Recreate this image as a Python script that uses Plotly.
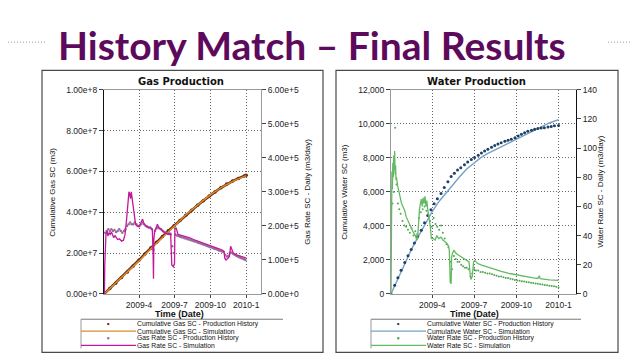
import pandas as pd
import plotly.graph_objects as go

W, H = 638, 359
START = pd.Timestamp("2009-01-01")

# ---------------- data (days since 2009-01-01) ----------------
gas_cum_hist_days = [0, 15, 30, 45, 60, 75, 90, 105, 120, 135, 150, 165, 180, 195, 210,
                     225, 240, 255, 270, 285, 300, 315, 330, 345, 360, 365]
gas_cum_hist = [0, 0.27e7, 0.53e7, 0.80e7, 1.07e7, 1.37e7, 1.66e7, 1.96e7, 2.25e7, 2.53e7,
                2.81e7, 3.09e7, 3.34e7, 3.60e7, 3.86e7, 4.10e7, 4.34e7, 4.57e7, 4.80e7,
                5.00e7, 5.20e7, 5.38e7, 5.53e7, 5.66e7, 5.78e7, 5.82e7]
gas_cum_sim_days = [0, 31, 59, 90, 120, 151, 181, 212, 243, 273, 304, 334, 365]
gas_cum_sim = [0, 0.55e7, 1.05e7, 1.62e7, 2.22e7, 2.80e7, 3.35e7, 3.90e7, 4.40e7,
               4.85e7, 5.25e7, 5.55e7, 5.80e7]

gas_rate_sim_days = [0, 1, 2, 3, 4, 5, 8, 10, 13, 16, 19, 22, 25, 28, 31, 35, 40, 45, 50,
                     54, 58, 61, 64, 66, 68, 70, 72, 75, 78, 81, 85, 90, 95, 99, 103, 108,
                     113, 118, 124, 126, 127, 128, 130, 134, 137, 141, 146, 150, 155, 160,
                     166, 171, 173, 174, 178, 181, 182, 185, 190, 200, 210, 220, 230, 243,
                     255, 265, 277, 290, 302, 308, 310, 313, 318, 322, 325, 328, 332, 340,
                     350, 358, 365]
gas_rate_sim = [0, 0, 0.85e5, 1.6e5, 1.2e5, 1.75e5, 1.85e5, 1.7e5, 1.8e5, 1.75e5, 1.82e5,
                1.7e5, 1.65e5, 1.72e5, 1.68e5, 1.6e5, 1.62e5, 1.55e5, 1.58e5, 1.75e5,
                2.2e5, 2.7e5, 3.0e5, 2.95e5, 2.8e5, 3.0e5, 2.85e5, 2.6e5, 2.3e5, 2.05e5,
                2.0e5, 1.98e5, 2.1e5, 2.2e5, 2.05e5, 2.0e5, 1.95e5, 1.95e5, 1.9e5, 1.2e5,
                0.45e5, 1.6e5, 1.85e5, 1.95e5, 2.05e5, 1.95e5, 1.9e5, 1.85e5, 1.8e5,
                1.78e5, 1.75e5, 1.78e5, 1.2e5, 0.85e5, 0.8e5, 0.9e5, 1.9e5, 1.95e5,
                1.75e5, 1.72e5, 1.68e5, 1.65e5, 1.6e5, 1.55e5, 1.5e5, 1.45e5, 1.4e5,
                1.35e5, 1.3e5, 1.25e5, 1.05e5, 1.0e5, 1.05e5, 1.1e5, 1.4e5, 1.3e5,
                1.2e5, 1.15e5, 1.1e5, 1.08e5, 1.05e5]

gas_rate_hist_days = [3, 7, 11, 15, 19, 23, 27, 31, 35, 39, 43, 47, 51, 55, 59, 63, 67, 71,
                      75, 79, 83, 87, 91, 95, 99, 103, 107, 111, 115, 119, 123, 127, 131,
                      135, 139, 143, 147, 151, 155, 159, 163, 167, 171, 175, 179, 183, 187,
                      191, 195, 199, 203, 207, 211, 215, 219, 223, 227, 231, 235, 239, 243,
                      247, 251, 255, 259, 263, 267, 271, 275, 279, 283, 287, 291, 295, 299,
                      303, 307, 311, 315, 319, 323, 327, 331, 335, 339, 343, 347, 351, 355,
                      359, 363]
gas_rate_hist = [1.8e5, 1.85e5, 1.9e5, 1.85e5, 1.9e5, 1.85e5, 1.88e5, 1.82e5, 1.85e5,
                 1.9e5, 1.85e5, 1.8e5, 1.85e5, 1.9e5, 2.0e5, 2.05e5, 2.1e5, 2.05e5,
                 2.05e5, 2.1e5, 2.05e5, 2.0e5, 2.0e5, 2.05e5, 2.1e5, 2.05e5, 2.0e5,
                 1.98e5, 1.95e5, 1.95e5, 1.9e5, 1.3e5, 1.85e5, 1.92e5, 1.95e5, 1.92e5,
                 1.9e5, 1.85e5, 1.82e5, 1.8e5, 1.78e5, 1.78e5, 1.75e5, 1.4e5, 1.2e5,
                 1.75e5, 1.72e5, 1.7e5, 1.68e5, 1.67e5, 1.66e5, 1.64e5, 1.63e5, 1.61e5,
                 1.6e5, 1.58e5, 1.57e5, 1.55e5, 1.54e5, 1.52e5, 1.5e5, 1.49e5, 1.47e5,
                 1.45e5, 1.44e5, 1.42e5, 1.4e5, 1.38e5, 1.37e5, 1.35e5, 1.33e5, 1.32e5,
                 1.3e5, 1.28e5, 1.27e5, 1.25e5, 1.23e5, 1.15e5, 1.1e5, 1.12e5, 1.2e5,
                 1.22e5, 1.18e5, 1.15e5, 1.12e5, 1.1e5, 1.08e5, 1.06e5, 1.04e5, 1.02e5,
                 1.0e5]

wat_cum_hist_days = [0, 8, 15, 22, 30, 37, 44, 51, 58, 66, 73, 80, 87, 94, 101, 109, 116,
                     124, 131, 138, 145, 152, 160, 167, 175, 182, 190, 197, 204, 211, 219,
                     226, 233, 240, 248, 255, 262, 270, 277, 284, 291, 298, 306, 313, 320,
                     327, 334, 342, 349, 356, 365]
wat_cum_hist = [0, 510, 950, 1400, 1850, 2250, 2620, 2990, 3370, 3750, 4180, 4610, 4950,
                5300, 5600, 5900, 6250, 6600, 6900, 7100, 7280, 7420, 7600, 7750, 7900,
                8020, 8150, 8280, 8400, 8510, 8620, 8720, 8810, 8890, 8970, 9030, 9090,
                9180, 9280, 9380, 9470, 9560, 9620, 9680, 9720, 9750, 9770, 9820, 9850,
                9880, 9900]
wat_cum_sim_days = [0, 15, 30, 45, 60, 75, 90, 105, 120, 135, 150, 165, 180, 195, 210, 225,
                    240, 255, 270, 285, 300, 315, 330, 345, 365]
wat_cum_sim = [0, 900, 1800, 2650, 3400, 4150, 4850, 5450, 5950, 6450, 6900, 7350, 7700,
               8000, 8250, 8450, 8650, 8850, 9050, 9250, 9480, 9680, 9880, 10050, 10250]

wat_rate_sim_days = [0, 1, 2, 3, 4, 5, 6, 7, 8, 9, 10, 11, 12, 14, 16, 18, 20, 23, 26, 30,
                     33, 37, 41, 45, 49, 53, 56, 58, 60, 62, 64, 66, 68, 70, 72, 74, 76, 78,
                     80, 82, 84, 86, 88, 92, 96, 100, 104, 109, 113, 117, 121, 125, 127,
                     129, 131, 132, 134, 137, 141, 145, 150, 155, 160, 165, 170, 172, 174,
                     177, 180, 183, 188, 196, 205, 215, 225, 240, 255, 270, 285, 298, 310,
                     320, 323, 325, 334, 345, 355, 365]
wat_rate_sim = [0, 50, 84, 72, 90, 80, 95, 85, 98, 82, 88, 78, 80, 75, 72, 68, 66, 62, 60,
                57, 53, 50, 47, 44, 42, 40, 37, 38, 50, 58, 62, 65, 60, 66, 62, 67, 60, 64,
                58, 55, 50, 45, 38, 38, 37, 40, 38, 39, 37, 36, 35, 33, 30, 8, 7, 25, 28,
                30, 28, 27, 26, 25, 24, 23, 22, 15, 10, 12, 22, 23, 21, 20, 19, 18, 17,
                15.5, 14.2, 13.2, 12.2, 11.6, 11, 10.6, 12.5, 10.5, 10, 9.7, 9.5, 9.3]

wat_rate_hist_days = [3, 6, 9, 12, 15, 18, 21, 25, 29, 33, 37, 41, 45, 49, 53, 57, 61, 65,
                      69, 73, 77, 81, 85, 89, 93, 97, 101, 105, 109, 113, 117, 121, 125,
                      129, 133, 137, 141, 145, 149, 153, 157, 161, 165, 169, 173, 177, 181,
                      185, 190, 195, 200, 205, 210, 215, 220, 225, 230, 235, 240, 245, 250,
                      255, 260, 265, 270, 275, 280, 285, 290, 295, 300, 305, 310, 315, 320,
                      325, 330, 335, 340, 345, 350, 355, 360, 365]
wat_rate_hist = [62, 70, 114, 75, 62, 58, 55, 50, 47, 46, 44, 42, 45, 40, 43, 41, 52, 56,
                 58, 60, 57, 55, 50, 46, 52, 48, 46, 44, 47, 42, 38, 34, 32, 22, 17, 26,
                 24, 22, 22, 20, 19, 18, 18, 17, 12, 14, 17, 16, 16, 15, 15, 14.5, 14, 14,
                 13.5, 13, 12.5, 12, 12, 11.5, 11, 11, 10.5, 10, 9.5, 9.2, 9, 8.7, 8.5,
                 8.2, 8, 7.7, 7.5, 7.2, 7, 6.7, 6.5, 6.2, 6, 5.7, 5.5, 5.2, 5, 4.5]

x_ticks = ["2009-04-01", "2009-07-01", "2009-10-01", "2010-01-01"]
x_tick_text = ["2009-4", "2009-7", "2009-10", "2010-1"]
gas_cum_ticks = [0, 2e7, 4e7, 6e7, 8e7, 1e8]
gas_cum_text = ["0.00e+0", "2.00e+7", "4.00e+7", "6.00e+7", "8.00e+7", "1.00e+8"]
gas_rate_ticks = [0, 1e5, 2e5, 3e5, 4e5, 5e5, 6e5]
gas_rate_text = ["0.00e+0", "1.00e+5", "2.00e+5", "3.00e+5", "4.00e+5", "5.00e+5", "6.00e+5"]
wat_cum_ticks = [0, 2000, 4000, 6000, 8000, 10000, 12000]
wat_cum_text = ["0", "2,000", "4,000", "6,000", "8,000", "10,000", "12,000"]
wat_rate_ticks = [0, 20, 40, 60, 80, 100, 120, 140]

gas_legend = ["Cumulative Gas SC - Production History", "Cumulative Gas SC - Simulation",
              "Gas Rate SC - Production History", "Gas Rate SC - Simulation"]
wat_legend = ["Cumulative Water SC - Production History", "Cumulative Water SC - Simulation",
              "Water Rate SC - Production History", "Water Rate SC - Simulation"]

# ---------------- styles ----------------
C_GCUM_H = "#6B2A0C"
C_GCUM_S = "#DB8C2A"
C_GRATE_H = "#9A6A9A"
C_GRATE_S = "#C2189C"
C_WCUM_H = "#1F3F66"
C_WCUM_S = "#74A2C6"
C_WRATE_H = "#4FA84F"
C_WRATE_S = "#62BA62"
TITLE_COL = "#5E0A5C"
FONT = "Liberation Sans, Arial, sans-serif"


def dates(days):
    return [START + pd.Timedelta(days=d) for d in days]


def px(x):
    return x / W


def py(y):
    return 1 - y / H


fig = go.Figure()

# Gas plot
fig.add_trace(go.Scatter(x=dates(gas_rate_hist_days), y=gas_rate_hist, mode="markers",
                         marker=dict(size=2.5, color=C_GRATE_H), xaxis="x", yaxis="y2",
                         name=gas_legend[2]))
fig.add_trace(go.Scatter(x=dates(gas_rate_sim_days), y=gas_rate_sim, mode="lines",
                         line=dict(color=C_GRATE_S, width=1.3), xaxis="x", yaxis="y2",
                         name=gas_legend[3]))
fig.add_trace(go.Scatter(x=dates(gas_cum_hist_days), y=gas_cum_hist, mode="lines+markers",
                         line=dict(color=C_GCUM_H, width=2.6), marker=dict(size=3.5, color=C_GCUM_H),
                         xaxis="x", yaxis="y", name=gas_legend[0]))
fig.add_trace(go.Scatter(x=dates(gas_cum_sim_days), y=gas_cum_sim, mode="lines",
                         line=dict(color=C_GCUM_S, width=1.4), xaxis="x", yaxis="y",
                         name=gas_legend[1]))

# Water plot
fig.add_trace(go.Scatter(x=dates(wat_rate_hist_days), y=wat_rate_hist, mode="markers",
                         marker=dict(size=2, color=C_WRATE_H), xaxis="x2", yaxis="y4",
                         name=wat_legend[2]))
fig.add_trace(go.Scatter(x=dates(wat_rate_sim_days), y=wat_rate_sim, mode="lines",
                         line=dict(color=C_WRATE_S, width=1.3), xaxis="x2", yaxis="y4",
                         name=wat_legend[3]))
fig.add_trace(go.Scatter(x=dates(wat_cum_sim_days), y=wat_cum_sim, mode="lines",
                         line=dict(color=C_WCUM_S, width=1.4), xaxis="x2", yaxis="y3",
                         name=wat_legend[1]))
fig.add_trace(go.Scatter(x=dates(wat_cum_hist_days), y=wat_cum_hist, mode="markers",
                         marker=dict(size=3, color=C_WCUM_H), xaxis="x2", yaxis="y3",
                         name=wat_legend[0]))

tickfont = dict(family=FONT, size=8.5, color="#222")
GRID = dict(gridcolor="#666", griddash="1px,2px", gridwidth=1)
xcommon = dict(type="date", range=["2009-01-01", "2010-02-08"], tickmode="array",
               tickvals=x_ticks, ticktext=x_tick_text, ticks="outside", ticklen=3,
               tickcolor="#444", showgrid=True, showline=True, linecolor="#9a9a9a",
               linewidth=1, mirror=True, zeroline=False, tickfont=tickfont, **GRID)
ydom = [py(289), py(79)]
ycommon = dict(domain=ydom, tickmode="array", ticks="outside", ticklen=4, tickcolor="#444",
               zeroline=False, tickfont=tickfont, showline=True)

fig.update_layout(
    width=W, height=H, margin=dict(l=0, r=0, t=0, b=0),
    paper_bgcolor="white", plot_bgcolor="white", showlegend=False,
    xaxis=dict(domain=[px(96), px(253)], anchor="y", **xcommon),
    yaxis=dict(anchor="x", range=[0, 1e8], tickvals=gas_cum_ticks, ticktext=gas_cum_text,
               linecolor="#111", linewidth=1.3, showgrid=True, **GRID, **ycommon),
    yaxis2=dict(anchor="x", overlaying="y", side="right", range=[0, 6e5],
                tickvals=gas_rate_ticks, ticktext=gas_rate_text, linecolor="#9a9a9a",
                linewidth=1, showgrid=False, **ycommon),
    xaxis2=dict(domain=[px(383), px(568)], anchor="y3", **xcommon),
    yaxis3=dict(anchor="x2", range=[0, 12000], tickvals=wat_cum_ticks, ticktext=wat_cum_text,
                linecolor="#9a9a9a", linewidth=1, showgrid=True, **GRID, **ycommon),
    yaxis4=dict(anchor="x2", overlaying="y3", side="right", range=[0, 140],
                tickvals=wat_rate_ticks, ticktext=[str(v) for v in wat_rate_ticks],
                linecolor="#111", linewidth=1.3, showgrid=False, **ycommon),
)

shapes = []
annotations = []

# slide decorations
shapes.append(dict(type="line", xref="paper", yref="paper", x0=px(0), x1=px(38), y0=py(30),
                   y1=py(30), line=dict(color="#9a9a9a", width=1, dash="1px,2px")))
shapes.append(dict(type="line", xref="paper", yref="paper", x0=px(600), x1=px(638), y0=py(30),
                   y1=py(30), line=dict(color="#9a9a9a", width=1, dash="1px,2px")))
for (l, r) in [(34, 315), (328, 610)]:
    shapes.append(dict(type="rect", xref="paper", yref="paper", x0=px(l), x1=px(r),
                       y0=py(349), y1=py(59), line=dict(color="#4a4a4a", width=1.2)))

annotations.append(dict(text="<b>History Match – Final Results</b>", xref="paper", yref="paper",
                        x=px(304), y=py(33), showarrow=False, xanchor="center", yanchor="middle",
                        font=dict(family="Liberation Sans Narrow, Lato, sans-serif", size=39,
                                  color=TITLE_COL)))

panels = [
    dict(cx=173, title="Gas Production", ylab="Cumulative Gas SC (m3)", ylx=45,
         rlab="Gas Rate SC - Daily (m3/day)", rlx=300, leg=gas_legend, lx=73, lr=275,
         cols=[(C_GCUM_H, "m"), (C_GCUM_S, "l"), (C_GRATE_H, "m"), (C_GRATE_S, "l")]),
    dict(cx=468, title="Water Production", ylab="Cumulative Water SC (m3)", ylx=337,
         rlab="Water Rate SC - Daily (m3/day)", rlx=593, leg=wat_legend, lx=363, lr=573,
         cols=[(C_WCUM_H, "m"), (C_WCUM_S, "l"), (C_WRATE_H, "m"), (C_WRATE_S, "l")]),
]

for p in panels:
    annotations.append(dict(text="<b>" + p["title"] + "</b>", xref="paper", yref="paper",
                            x=px(p["cx"]), y=py(70), showarrow=False, xanchor="center",
                            yanchor="middle",
                            font=dict(family="DejaVu Sans", size=10, color="#111")))
    annotations.append(dict(text="<b>Time (Date)</b>", xref="paper", yref="paper",
                            x=px(p["cx"] - 2), y=py(310), showarrow=False, xanchor="center",
                            yanchor="middle", borderpad=0,
                            font=dict(family=FONT, size=9, color="#111")))
    annotations.append(dict(text=p["ylab"], xref="paper", yref="paper", x=px(p["ylx"]),
                            y=py(184), showarrow=False, textangle=-90, xanchor="center",
                            yanchor="middle", font=dict(family=FONT, size=8, color="#111")))
    annotations.append(dict(text=p["rlab"], xref="paper", yref="paper", x=px(p["rlx"]),
                            y=py(184), showarrow=False, textangle=-90, xanchor="center",
                            yanchor="middle", font=dict(family=FONT, size=8, color="#111")))
    lx = p["lx"]
    shapes.append(dict(type="line", xref="paper", yref="paper", x0=px(lx), x1=px(p["lr"]),
                       y0=py(315), y1=py(315), line=dict(color="#777", width=1)))
    shapes.append(dict(type="line", xref="paper", yref="paper", x0=px(lx), x1=px(lx),
                       y0=py(315), y1=py(345), line=dict(color="#999", width=1)))
    for i, (txt, (col, kind)) in enumerate(zip(p["leg"], p["cols"])):
        yy = 320 + 7.3 * i
        if kind == "l":
            shapes.append(dict(type="line", xref="paper", yref="paper", x0=px(lx),
                               x1=px(lx + 55), y0=py(yy), y1=py(yy),
                               line=dict(color=col, width=1.3)))
        else:
            shapes.append(dict(type="circle", xref="paper", yref="paper", x0=px(lx + 26),
                               x1=px(lx + 28.5), y0=py(yy + 1.2), y1=py(yy - 1.2),
                               fillcolor=col, line=dict(width=0)))
        annotations.append(dict(text=txt, xref="paper", yref="paper", x=px(lx + 55),
                                y=py(yy), showarrow=False, xanchor="left", yanchor="middle",
                                borderpad=0,
                                font=dict(family=FONT, size=6.8, color="#111")))

fig.update_layout(shapes=shapes, annotations=annotations)
fig.write_html("out.html")
